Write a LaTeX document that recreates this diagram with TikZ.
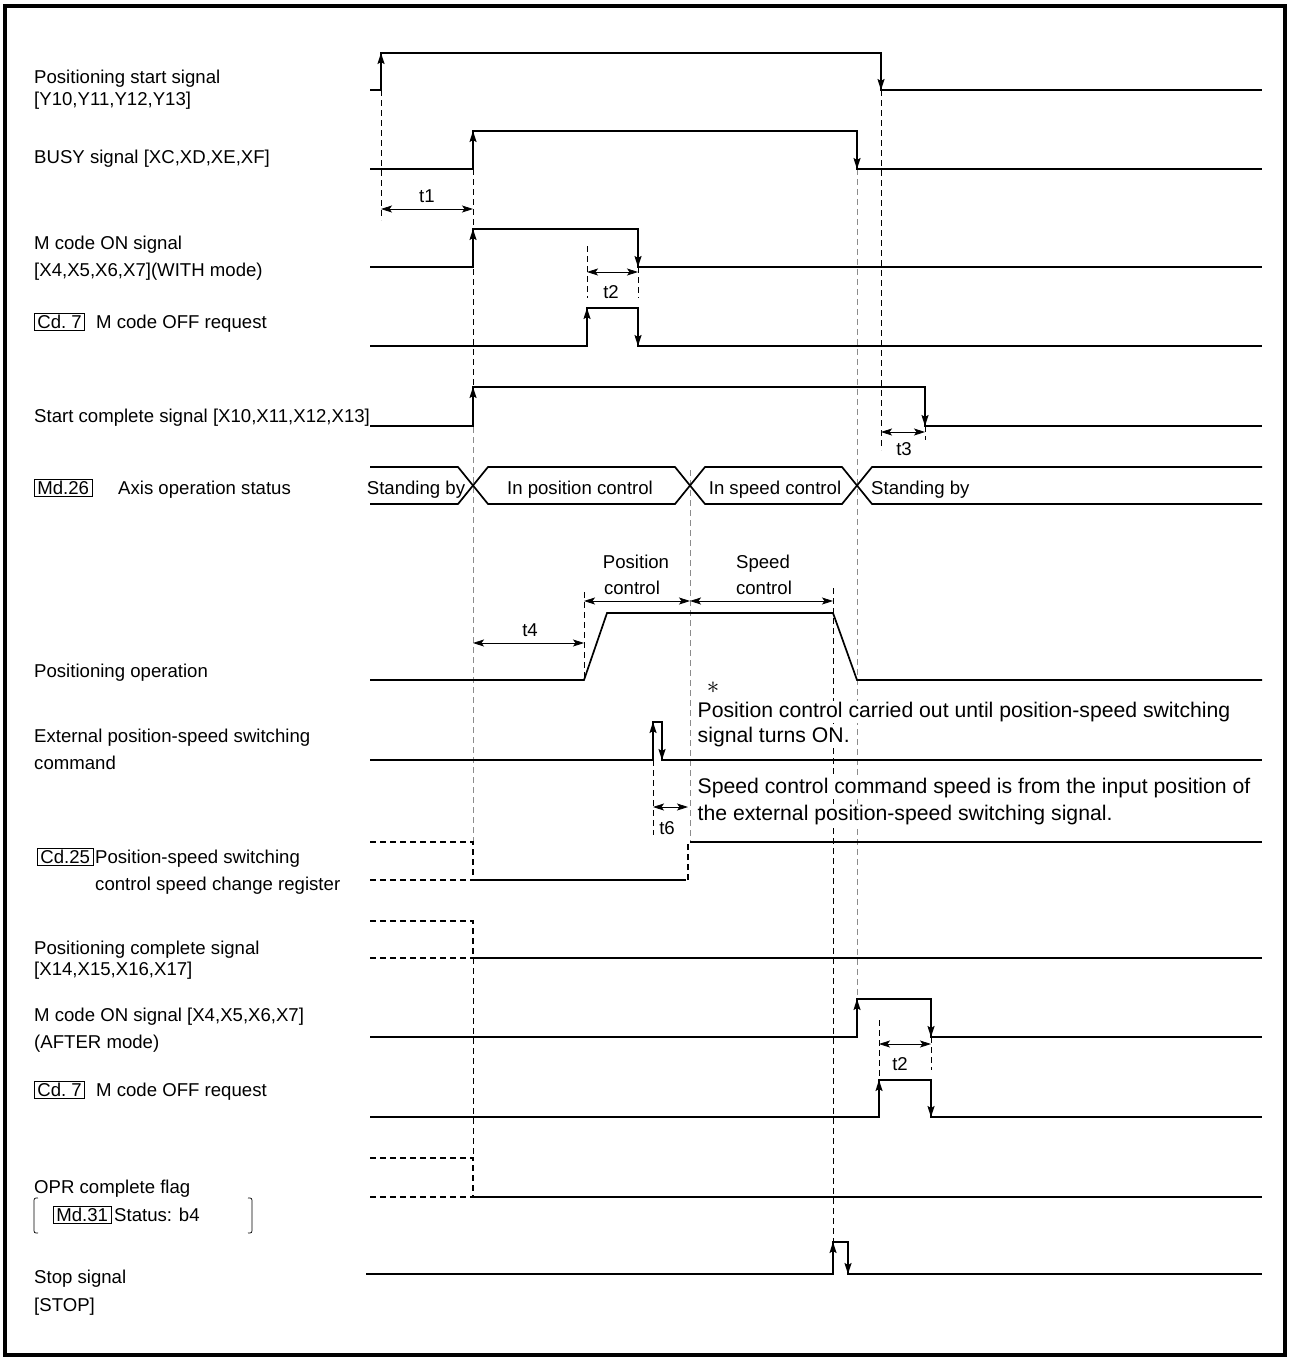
\documentclass[tikz,border=0pt]{standalone}
\usepackage{fontspec}
\setmainfont{Liberation Sans}
\usetikzlibrary{arrows.meta}
\tikzset{
  sig/.style={line width=1.7pt},
  edge/.style={line width=1.7pt, -{Stealth[length=11pt,width=7pt,inset=2pt]}},
  dim/.style={line width=0.8pt, {Stealth[length=11pt,width=7pt,inset=2.5pt]}-{Stealth[length=11pt,width=7pt,inset=2.5pt]}},
  guide/.style={line width=0.7pt, dash pattern=on 6pt off 4pt},
  gguide/.style={guide, black!45},
  undef/.style={line width=1.7pt, dash pattern=on 6pt off 4pt},
  lbl/.style={anchor=base west, inner sep=0pt, font=\fontsize{18.6}{22}\selectfont},
  tlbl/.style={anchor=base, inner sep=0pt, font=\fontsize{18.6}{22}\selectfont},
  note/.style={anchor=base west, inner sep=1.5pt, fill=white, font=\fontsize{21.2}{25}\selectfont},
  regbox/.style={draw, line width=0.8pt, inner xsep=3pt, inner ysep=2pt, anchor=base west, font=\fontsize{18.6}{22}\selectfont}
}
\begin{document}
\begin{tikzpicture}[x=1pt,y=-1pt]
  \useasboundingbox (0,0) rectangle (1290,1360);
  \draw[line width=4pt] (5,6) rectangle (1285,1355);

  % guide lines
  \draw[guide] (381,90) -- (381,220);
  \draw[guide] (473,169) -- (473,387);
  \draw[gguide] (473,387) -- (473,842);
  \draw[guide] (473,958) -- (473,1158);
  \draw[guide] (587,246) -- (587,298);
  \draw[guide] (638,267) -- (638,298);
  \draw[guide] (881,90) -- (881,450);
  \draw[guide] (925,426) -- (925,440);
  \draw[guide] (584,592) -- (584,680);
  \draw[guide] (833,588) -- (833,1242);
  \draw[gguide] (690,470) -- (690,842);
  \draw[gguide] (857,169) -- (857,999);
  \draw[guide] (653,760) -- (653,835);
  \draw[guide] (879,1020) -- (879,1080);
  \draw[guide] (931,1037) -- (931,1070);

  % waveforms
  \draw[sig] (370,90) -- (381,90) -- (381,53) -- (881,53) -- (881,90) -- (1262,90);
  \draw[sig] (370,169) -- (473,169) -- (473,131) -- (857,131) -- (857,169) -- (1262,169);
  \draw[sig] (370,267) -- (473,267) -- (473,229) -- (638,229) -- (638,267) -- (1262,267);
  \draw[sig] (370,346) -- (587,346) -- (587,308) -- (638,308) -- (638,346) -- (1262,346);
  \draw[sig] (370,426) -- (473,426) -- (473,387) -- (925,387) -- (925,426) -- (1262,426);
  \draw[sig] (370,467) -- (458,467) -- (488,504) -- (675,504) -- (705,467) -- (842,467) -- (872,504) -- (1262,504);
  \draw[sig] (370,504) -- (458,504) -- (488,467) -- (675,467) -- (705,504) -- (842,504) -- (872,467) -- (1262,467);
  \draw[sig] (370,680) -- (584,680) -- (607,613) -- (833,613) -- (857,680) -- (1262,680);
  \draw[sig] (370,760) -- (653,760) -- (653,722) -- (662,722) -- (662,760) -- (1262,760);
  \draw[undef] (370,842) -- (473,842) -- (473,880);
  \draw[undef] (370,880) -- (473,880);
  \draw[sig] (473,880) -- (686,880);
  \draw[undef] (688,880) -- (688,842);
  \draw[sig] (690,842) -- (1262,842);
  \draw[undef] (370,921) -- (473,921) -- (473,958);
  \draw[undef] (370,958) -- (473,958);
  \draw[sig] (473,958) -- (1262,958);
  \draw[sig] (370,1037) -- (857,1037) -- (857,999) -- (931,999) -- (931,1037) -- (1262,1037);
  \draw[sig] (370,1117) -- (879,1117) -- (879,1080) -- (931,1080) -- (931,1117) -- (1262,1117);
  \draw[undef] (370,1158) -- (473,1158) -- (473,1197);
  \draw[undef] (370,1197) -- (473,1197);
  \draw[sig] (473,1197) -- (1262,1197);
  \draw[sig] (366,1274) -- (833,1274) -- (833,1242) -- (848,1242) -- (848,1274) -- (1262,1274);

  % edge arrows
  \foreach \x/\a/\b in {381/90/53, 473/169/131, 473/267/229, 587/346/308, 473/426/387,
                        653/760/722, 857/1037/999, 879/1117/1080, 833/1274/1242,
                        881/53/90, 857/131/169, 638/229/267, 638/308/346, 925/387/426,
                        662/722/760, 931/999/1037, 931/1080/1117, 848/1242/1274}
    \draw[edge] (\x,\a) -- (\x,\b);

  % time spans
  \draw[dim] (381,209) -- (473,209);
  \draw[dim] (587,272) -- (638,272);
  \draw[dim] (881,432) -- (925,432);
  \draw[dim] (473,643) -- (584,643);
  \draw[dim] (584,601) -- (690,601);
  \draw[dim] (690,601) -- (833,601);
  \draw[dim] (653,807) -- (688,807);
  \draw[dim] (879,1044) -- (931,1044);
  \node[tlbl] (tone) at (427,202.5) {t1};
  \node[tlbl] (ttwo) at (611,298.5) {t2};
  \node[tlbl] (tthree) at (904,455.5) {t3};
  \node[tlbl] (tfour) at (530,636.5) {t4};
  \node[tlbl] (tsix) at (667,834.5) {t6};
  \node[tlbl] (ttwob) at (900,1070.5) {t2};
  \node[tlbl] (poslbl) at (636,568.5) {Position};
  \node[tlbl] (posctl) at (632,594.5) {control};
  \node[tlbl] (spdlbl) at (763,568.5) {Speed};
  \node[tlbl] (spdctl) at (764,594.5) {control};

  % bus states
  \node[tlbl] (stby) at (416,494.5) {Standing by};
  \node[tlbl] (inpos) at (580,494.5) {In position control};
  \node[tlbl] (inspd) at (775,494.5) {In speed control};
  \node[lbl] (stbyb) at (871,494.5) {Standing by};

  % notes
  \node[inner sep=0pt, font=\fontsize{30}{30}\selectfont] (star) at (713,688) {$\ast$};
  \node[note] (noteone) at (696,717.5) {Position control carried out until position-speed switching};
  \node[note] (notetwo) at (696,742.5) {signal turns ON.};
  \node[note] (notethree) at (696,793.5) {Speed control command speed is from the input position of};
  \node[note] (notefour) at (696,820.5) {the external position-speed switching signal.};

  % signal names
  \node[lbl] (startsig) at (34,83.5) {Positioning start signal};
  \node[lbl] (startdev) at (34,105.5) {[Y10,Y11,Y12,Y13]};
  \node[lbl] (busy) at (34,163.5) {BUSY signal [XC,XD,XE,XF]};
  \node[lbl] (mcodea) at (34,249.5) {M code ON signal};
  \node[lbl] (mcodeadev) at (34,276.5) {[X4,X5,X6,X7](WITH mode)};
  \node[regbox] (cdseva) at (34,328.5) {Cd.\ 7};
  \node[lbl] (offreqa) at (96,328.5) {M code OFF request};
  \node[lbl] (startcmp) at (34,422.5) {Start complete signal [X10,X11,X12,X13]};
  \node[regbox] (mdtwosix) at (34,494.5) {Md.26};
  \node[lbl] (axisst) at (118,494.5) {Axis operation status};
  \node[lbl] (posop) at (34,677.5) {Positioning operation};
  \node[lbl] (extcmd) at (34,742.5) {External position-speed switching};
  \node[lbl] (extcmdb) at (34,769.5) {command};
  \node[regbox] (cdtwofive) at (37,863.5) {Cd.25};
  \node[lbl] (chgreg) at (95,863.5) {Position-speed switching};
  \node[lbl] (chgregb) at (95,890.5) {control speed change register};
  \node[lbl] (poscmp) at (34,954.5) {Positioning complete signal};
  \node[lbl] (poscmpdev) at (34,975.5) {[X14,X15,X16,X17]};
  \node[lbl] (mcodeb) at (34,1021.5) {M code ON signal [X4,X5,X6,X7]};
  \node[lbl] (mcodebmode) at (34,1048.5) {(AFTER mode)};
  \node[regbox] (cdsevb) at (34,1096.5) {Cd.\ 7};
  \node[lbl] (offreqb) at (96,1096.5) {M code OFF request};
  \node[lbl] (oprflag) at (34,1193.5) {OPR complete flag};
  \node[regbox] (mdthreeone) at (53,1221.5) {Md.31};
  \node[lbl] (oprbit) at (114,1221.5) {Status: b4};
  \draw[line width=0.7pt] (38,1198) .. controls (34,1198) .. (34,1203) -- (34,1228) .. controls (34,1233) .. (38,1233);
  \draw[line width=0.7pt] (248,1198) .. controls (252,1198) .. (252,1203) -- (252,1228) .. controls (252,1233) .. (248,1233);
  \node[lbl] (stopsig) at (34,1283.5) {Stop signal};
  \node[lbl] (stopdev) at (34,1311.5) {[STOP]};
\end{tikzpicture}
\end{document}
